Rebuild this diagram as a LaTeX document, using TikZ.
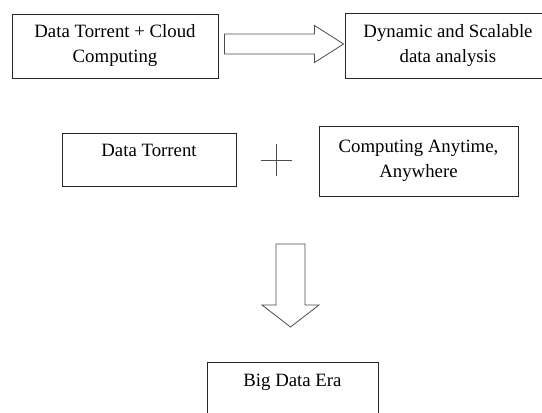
\documentclass[tikz,border=0pt]{standalone}
\usepackage{fontspec}
\setmainfont{Liberation Serif}
\usetikzlibrary{calc}

\tikzset{
  tbox/.style={draw=black!85, line width=0.9pt, align=center, inner sep=0pt,
    font=\fontsize{18.8}{25}\selectfont},
  hollow/.style={draw=black!70, line width=0.8pt, fill=white, line join=miter}
}

\begin{document}
\begin{tikzpicture}[x=1pt,y=-1pt]
\useasboundingbox (0,0) rectangle (542,413);
\clip (0,0) rectangle (542,413);
% The boxes
\node[tbox, minimum width=206, minimum height=64] (datacloud) at (115,46) {Data Torrent + Cloud\\Computing};
\node[tbox, minimum width=206, minimum height=65] (dynamic) at (448,45.5) {Dynamic and Scalable\\data analysis};
\node[tbox, minimum width=174, minimum height=53, text depth=19pt] (torrent) at (149,159.5) {Data Torrent};
\node[tbox, minimum width=199, minimum height=70] (anytime) at (418.5,161) {Computing Anytime,\\Anywhere};
\node[tbox, minimum width=171, minimum height=60, text depth=24pt, anchor=north] (bigdata) at (292.5,362) {Big Data Era};
% The right arrow
\coordinate (rtail) at ($(datacloud.east)+(6,-2)$);
\coordinate (rtip) at ($(dynamic.west)+(-1,-1.5)$);
\draw[hollow] ($(rtail)+(0,-10)$) -- ($(rtip)+(-29,-10)$) -- ($(rtip)+(-29,-18.5)$)
  -- (rtip) -- ($(rtip)+(-29,18.5)$) -- ($(rtip)+(-29,10)$) -- ($(rtail)+(0,10)$) -- cycle;
% The plus
\coordinate (plus) at ($(torrent.east)!0.49!(anytime.west)$);
\draw[black!70, line width=0.7pt] ($(plus)+(-15.5,0)$) -- ($(plus)+(15.5,0)$);
\draw[black!70, line width=0.7pt] ($(plus)+(0,-16)$) -- ($(plus)+(0,16)$);
% The down arrow
\coordinate (dtip) at ($(bigdata.north)+(-2,-35)$);
\coordinate (dtail) at ($(bigdata.north)+(-2,-118)$);
\draw[hollow] ($(dtail)+(-14.5,0)$) -- ($(dtip)+(-14.5,-22)$) -- ($(dtip)+(-28.5,-22)$)
  -- (dtip) -- ($(dtip)+(28.5,-22)$) -- ($(dtip)+(14.5,-22)$) -- ($(dtail)+(14.5,0)$) -- cycle;
\end{tikzpicture}
\end{document}
